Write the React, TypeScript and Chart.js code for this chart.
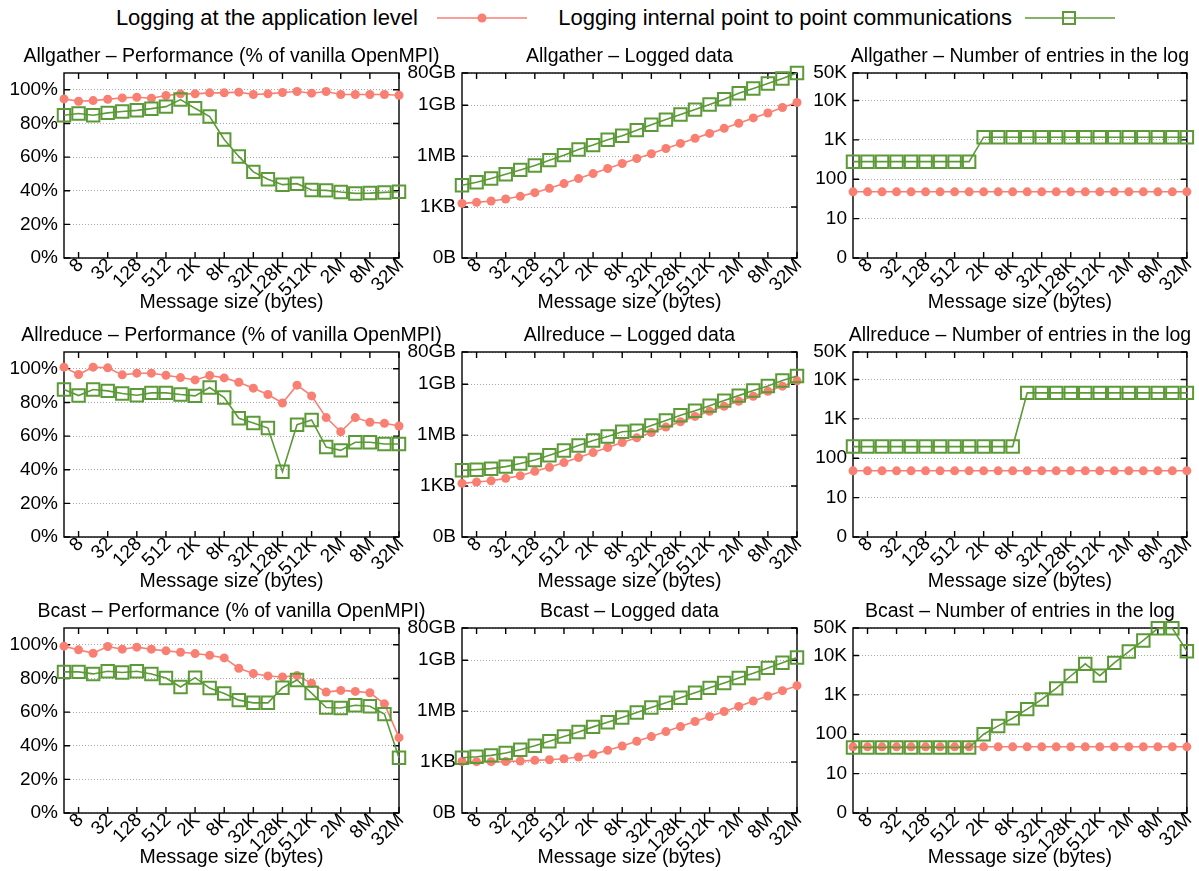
import React, { useEffect, useRef } from 'react';
import { Chart, registerables } from 'chart.js';

Chart.register(...registerables);

const FONT = '"Liberation Sans", Arial, Helvetica, sans-serif';
const FONT_SIZE = 19.5;
const TICK_FONT_SIZE = 19;
const RED = '#f97f72';
const GREEN = '#5b9a36';

// ---------- data ----------
const messageSizes = ['4', '8', '16', '32', '64', '128', '256', '512', '1K', '2K', '4K', '8K', '16K', '32K', '64K', '128K', '256K', '512K', '1M', '2M', '4M', '8M', '16M', '32M'];
const shownSizeLabels = ['8', '32', '128', '512', '2K', '8K', '32K', '128K', '512K', '2M', '8M', '32M'];

const perfTickValues = [0, 20, 40, 60, 80, 100];
const dataTickValues = [1, 1024, 1048576, 1073741824, 85899345920];
const dataTickLabels = ['0B', '1KB', '1MB', '1GB', '80GB'];
const entriesTickValues = [1, 10, 100, 1000, 10000, 50000];
const entriesTickLabels = ['0', '10', '100', '1K', '10K', '50K'];

const allgatherPerfApp = [94.6, 93.2, 93.6, 94.4, 95.2, 95.6, 95.0, 96.6, 97.6, 97.6, 98.2, 98.2, 98.6, 97.2, 97.6, 98.4, 99.0, 98.0, 99.0, 97.2, 97.2, 97.2, 97.2, 96.8];
const allgatherPerfP2P = [84.9, 85.9, 84.9, 86.3, 87.1, 87.8, 88.8, 90.0, 94.2, 89.0, 84.1, 70.5, 60.4, 51.2, 46.8, 43.6, 44.2, 40.4, 40.2, 39.2, 38.4, 38.6, 39.0, 39.4];
const allgatherDataApp = [1690, 1940, 2320, 3060, 4410, 7290, 13150, 25000, 49400, 97800, 194000, 384000, 762000, 1440000, 2980000, 5930000, 11800000, 23200000, 46200000, 91500000, 190000000, 370000000, 780000000, 1550000000];
const allgatherDataP2P = [19900, 29900, 49400, 89500, 161000, 293000, 608000, 1200000, 2620000, 4700000, 9800000, 16900000, 36000000, 76000000, 151000000, 300000000, 590000000, 1170000000, 2430000000, 5500000000, 10500000000, 20800000000, 41100000000, 85600000000];
const allgatherEntriesApp = [48, 48, 48, 48, 48, 48, 48, 48, 48, 48, 48, 48, 48, 48, 48, 48, 48, 48, 48, 48, 48, 48, 48, 48];
const allgatherEntriesP2P = [280, 280, 280, 280, 280, 280, 280, 280, 280, 1170, 1170, 1170, 1170, 1170, 1170, 1170, 1170, 1170, 1170, 1170, 1170, 1170, 1170, 1170];

const allreducePerfApp = [101.0, 96.6, 101.0, 100.6, 96.4, 97.4, 97.4, 96.2, 94.8, 93.4, 96.0, 94.6, 92.0, 88.5, 84.7, 79.7, 90.3, 83.9, 71.0, 62.6, 71.0, 68.2, 67.6, 66.0];
const allreducePerfP2P = [87.7, 84.1, 87.7, 86.9, 85.3, 84.3, 85.7, 85.7, 84.7, 83.9, 88.9, 82.9, 70.6, 67.8, 64.8, 38.8, 66.8, 69.6, 53.5, 51.5, 56.3, 56.3, 55.3, 55.3];
const allreduceDataApp = [1477, 1771, 2120, 2920, 4200, 7600, 13100, 25000, 49400, 97800, 194000, 384000, 726000, 1510000, 3140000, 6500000, 13400000, 26700000, 53000000, 105000000, 208000000, 413000000, 820000000, 1700000000];
const allreduceDataP2P = [8700, 9550, 10950, 14400, 21800, 35900, 67900, 128000, 255000, 506000, 876000, 1660000, 1900000, 3950000, 7800000, 15500000, 29200000, 58000000, 115000000, 227000000, 450000000, 850000000, 1770000000, 3300000000];
const allreduceEntriesApp = [48, 48, 48, 48, 48, 48, 48, 48, 48, 48, 48, 48, 48, 48, 48, 48, 48, 48, 48, 48, 48, 48, 48, 48];
const allreduceEntriesP2P = [198, 198, 198, 198, 198, 198, 198, 198, 198, 198, 198, 198, 4580, 4580, 4580, 4580, 4580, 4580, 4580, 4580, 4580, 4580, 4580, 4580];

const bcastPerfApp = [99.2, 97.0, 95.0, 99.0, 97.4, 98.6, 97.4, 96.4, 95.6, 94.8, 93.8, 92.2, 86.1, 82.9, 81.5, 80.9, 81.7, 77.1, 71.9, 72.9, 72.3, 71.5, 64.9, 44.8];
const bcastPerfP2P = [83.9, 83.9, 82.7, 84.3, 83.5, 84.3, 82.7, 80.3, 74.9, 80.5, 74.3, 71.1, 67.1, 65.5, 65.5, 74.5, 79.1, 71.3, 62.7, 62.4, 64.1, 63.5, 58.8, 32.9];
const bcastDataApp = [1100, 1080, 1080, 1090, 1175, 1290, 1410, 1615, 2030, 2920, 5040, 9140, 17300, 32800, 65000, 128000, 255000, 505000, 1000000, 1990000, 4130000, 8200000, 17000000, 33600000];
const bcastDataP2P = [1855, 2120, 2550, 3510, 5530, 9550, 17300, 32800, 62000, 123000, 232000, 441000, 875000, 1740000, 3300000, 6500000, 12900000, 24900000, 48400000, 96000000, 182000000, 377000000, 750000000, 1550000000];
const bcastEntriesApp = [48, 48, 48, 48, 48, 48, 48, 48, 48, 48, 48, 48, 48, 48, 48, 48, 48, 48, 48, 48, 48, 48, 48, 48];
const bcastEntriesP2P = [46, 46, 46, 46, 46, 46, 46, 46, 46, 100, 163, 256, 435, 767, 1466, 3020, 6140, 3090, 6500, 12600, 24100, 49000, 49000, 12900];

const APP_LABEL = 'Logging at the application level';
const P2P_LABEL = 'Logging internal point to point communications';

// ---------- layout ----------
const PLOT_LEFT = [64, 462, 853];
const PLOT_RIGHT = [399, 797, 1190];
const PLOT_TOP = [73, 352, 628];
const PLOT_BOTTOM = [258, 537, 813];
const CANVAS_LEFT = [0, 392, 792];
const CANVAS_WIDTH = [470, 440, 407];
const Y_AXIS_W = 60;
const X_AXIS_H = 60;
const ABOVE = 50;
const BELOW = 64;

type Kind = 'perf' | 'data' | 'entries';
interface PanelCfg { row: number; col: number; title: string; kind: Kind; app: number[]; p2p: number[]; }

const panels: PanelCfg[] = [
  { row: 0, col: 0, kind: 'perf', title: 'Allgather – Performance (% of vanilla OpenMPI)', app: allgatherPerfApp, p2p: allgatherPerfP2P },
  { row: 0, col: 1, kind: 'data', title: 'Allgather – Logged data', app: allgatherDataApp, p2p: allgatherDataP2P },
  { row: 0, col: 2, kind: 'entries', title: 'Allgather – Number of entries in the log', app: allgatherEntriesApp, p2p: allgatherEntriesP2P },
  { row: 1, col: 0, kind: 'perf', title: 'Allreduce – Performance (% of vanilla OpenMPI)', app: allreducePerfApp, p2p: allreducePerfP2P },
  { row: 1, col: 1, kind: 'data', title: 'Allreduce – Logged data', app: allreduceDataApp, p2p: allreduceDataP2P },
  { row: 1, col: 2, kind: 'entries', title: 'Allreduce – Number of entries in the log', app: allreduceEntriesApp, p2p: allreduceEntriesP2P },
  { row: 2, col: 0, kind: 'perf', title: 'Bcast – Performance (% of vanilla OpenMPI)', app: bcastPerfApp, p2p: bcastPerfP2P },
  { row: 2, col: 1, kind: 'data', title: 'Bcast – Logged data', app: bcastDataApp, p2p: bcastDataP2P },
  { row: 2, col: 2, kind: 'entries', title: 'Bcast – Number of entries in the log', app: bcastEntriesApp, p2p: bcastEntriesP2P },
];

const isShownTick = (i: number) => shownSizeLabels.includes(messageSizes[i]);

const framePlugin = {
  id: 'gnuFrame',
  beforeDatasetsDraw(chart: any) {
    const { ctx, chartArea, scales } = chart;
    const { left, right, top, bottom } = chartArea;
    const x = scales.x;
    const y = scales.y;
    ctx.save();
    ctx.strokeStyle = '#000';
    ctx.lineWidth = 1.4;
    ctx.beginPath();
    x.ticks.forEach((_t: any, i: number) => {
      if (!isShownTick(i)) return;
      const px = x.getPixelForTick(i);
      ctx.moveTo(px, bottom);
      ctx.lineTo(px, bottom - 6);
      ctx.moveTo(px, top);
      ctx.lineTo(px, top + 6);
    });
    y.ticks.forEach((t: any) => {
      const py = y.getPixelForValue(t.value);
      ctx.moveTo(left, py);
      ctx.lineTo(left + 6, py);
      ctx.moveTo(right, py);
      ctx.lineTo(right - 6, py);
    });
    ctx.stroke();
    ctx.strokeRect(left, top, right - left, bottom - top);
    ctx.restore();
  },
  afterDraw(chart: any, _args: any, opts: any) {
    if (!opts || !opts.title) return;
    const { ctx, chartArea } = chart;
    ctx.save();
    ctx.fillStyle = '#000';
    ctx.font = `${FONT_SIZE}px ${FONT}`;
    ctx.textAlign = 'center';
    ctx.textBaseline = 'middle';
    ctx.fillText(opts.title, (chartArea.left + chartArea.right) / 2, chartArea.top - 16.5);
    ctx.restore();
  },
};

function yScaleFor(kind: Kind): any {
  const common = {
    grid: { display: true, drawTicks: false, color: '#a8a8a8', lineWidth: 1 },
    border: { display: false, dash: [1, 2] },
    afterFit: (s: any) => { s.width = Y_AXIS_W; },
  };
  const tickFont = { family: FONT, size: TICK_FONT_SIZE };
  if (kind === 'perf') {
    return {
      ...common,
      type: 'linear', min: 0, max: 110,
      afterBuildTicks: (s: any) => { s.ticks = perfTickValues.map((v) => ({ value: v })); },
      ticks: { padding: 6, color: '#000', font: tickFont, callback: (v: any) => `${v}%` },
    };
  }
  if (kind === 'data') {
    return {
      ...common,
      type: 'logarithmic', min: 1, max: 85899345920,
      afterBuildTicks: (s: any) => { s.ticks = dataTickValues.map((v) => ({ value: v })); },
      ticks: { padding: 6, color: '#000', font: tickFont, callback: (v: any) => dataTickLabels[dataTickValues.indexOf(Number(v))] ?? '' },
    };
  }
  return {
    ...common,
    type: 'logarithmic', min: 1, max: 50000,
    afterBuildTicks: (s: any) => { s.ticks = entriesTickValues.map((v) => ({ value: v })); },
    ticks: { padding: 6, color: '#000', font: tickFont, callback: (v: any) => entriesTickLabels[entriesTickValues.indexOf(Number(v))] ?? '' },
  };
}

function Panel({ cfg }: { cfg: PanelCfg }) {
  const ref = useRef<HTMLCanvasElement | null>(null);
  const { row, col } = cfg;
  const cx = CANVAS_LEFT[col];
  const cw = CANVAS_WIDTH[col];
  const cy = PLOT_TOP[row] - ABOVE;
  const plotH = PLOT_BOTTOM[row] - PLOT_TOP[row];
  const ch = plotH + ABOVE + BELOW;

  useEffect(() => {
    if (!ref.current) return;
    const chart = new Chart(ref.current, {
      type: 'line',
      data: {
        labels: messageSizes,
        datasets: [
          {
            label: APP_LABEL, data: cfg.app, order: 1,
            borderColor: RED, backgroundColor: RED, borderWidth: 1.6,
            pointStyle: 'circle', pointRadius: 4.5, pointBorderWidth: 0,
            pointBackgroundColor: RED, pointBorderColor: RED, tension: 0, clip: false,
          } as any,
          {
            label: P2P_LABEL, data: cfg.p2p, order: 0,
            borderColor: GREEN, backgroundColor: 'rgba(0,0,0,0)', borderWidth: 1.6,
            pointStyle: 'rect', pointRadius: 8.8, pointBorderWidth: 2,
            pointBackgroundColor: 'rgba(0,0,0,0)', pointBorderColor: GREEN, tension: 0, clip: false,
          } as any,
        ],
      },
      options: {
        animation: false,
        responsive: false,
        maintainAspectRatio: false,
        events: [],
        layout: {
          padding: {
            left: PLOT_LEFT[col] - cx - Y_AXIS_W,
            right: cx + cw - PLOT_RIGHT[col],
            top: ABOVE,
            bottom: BELOW - X_AXIS_H,
          },
        },
        plugins: {
          legend: { display: false },
          tooltip: { enabled: false },
          title: { display: false },
          gnuFrame: { title: cfg.title },
        } as any,
        scales: {
          x: {
            type: 'category', offset: false,
            grid: { display: false, drawTicks: false },
            border: { display: false },
            ticks: {
              autoSkip: false, minRotation: 45, maxRotation: 45, padding: -4, labelOffset: 2, color: '#000',
              font: { family: FONT, size: TICK_FONT_SIZE },
              callback: (_v: any, i: number) => (isShownTick(i) ? messageSizes[i] : ''),
            },
            title: {
              display: true, text: 'Message size (bytes)', color: '#000',
              font: { family: FONT, size: FONT_SIZE, lineHeight: 1.2 },
              padding: { top: 0, bottom: 4 },
            },
            afterFit: (s: any) => { s.height = X_AXIS_H; },
          } as any,
          y: yScaleFor(cfg.kind),
        },
      },
      plugins: [framePlugin],
    } as any);
    return () => chart.destroy();
  }, [cfg]);

  return (
    <canvas
      ref={ref}
      width={cw}
      height={ch}
      style={{ position: 'absolute', left: cx, top: cy, width: cw, height: ch }}
    />
  );
}

function LegendSample({ kind }: { kind: 'app' | 'p2p' }) {
  if (kind === 'app') {
    return (
      <svg width={92} height={20} style={{ position: 'absolute', left: 436, top: 8 }}>
        <line x1={1} y1={10} x2={91} y2={10} stroke={RED} strokeWidth={1.6} />
        <circle cx={46} cy={10} r={4.5} fill={RED} />
      </svg>
    );
  }
  return (
    <svg width={92} height={20} style={{ position: 'absolute', left: 1024, top: 8 }}>
      <line x1={1} y1={10} x2={91} y2={10} stroke={GREEN} strokeWidth={1.6} />
      <rect x={39} y={4} width={12} height={12} fill="none" stroke={GREEN} strokeWidth={2} />
    </svg>
  );
}

export default function App() {
  Chart.defaults.font.family = FONT;
  Chart.defaults.font.size = FONT_SIZE;
  Chart.defaults.color = '#000';

  const legendText: React.CSSProperties = {
    position: 'absolute', top: 5, height: 26, lineHeight: '26px',
    fontSize: 22, fontFamily: FONT, color: '#000', textAlign: 'right', whiteSpace: 'nowrap',
  };

  return (
    <div style={{ position: 'absolute', left: 0, top: 0, width: 1199, height: 871, background: '#fff', overflow: 'hidden' }}>
      <div style={{ ...legendText, left: 0, width: 418 }}>{APP_LABEL}</div>
      <LegendSample kind="app" />
      <div style={{ ...legendText, left: 430, width: 582 }}>{P2P_LABEL}</div>
      <LegendSample kind="p2p" />
      {panels.map((p) => (
        <Panel key={`${p.row}-${p.col}`} cfg={p} />
      ))}
    </div>
  );
}
